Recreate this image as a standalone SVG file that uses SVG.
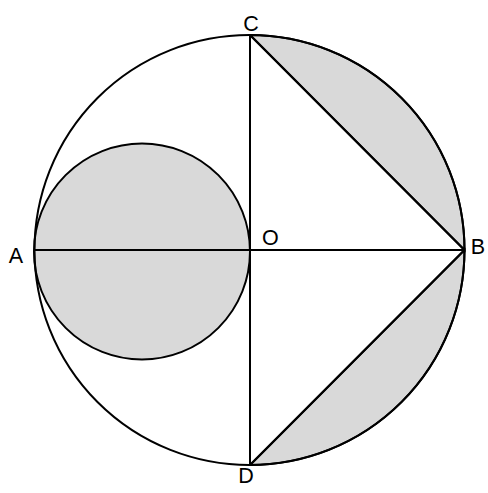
<svg xmlns="http://www.w3.org/2000/svg" width="488" height="493" viewBox="0 0 488 493">
<style>
.s{stroke:#000;stroke-width:2;fill:none}
.f{fill:#d9d9d9;stroke:#000;stroke-width:2}
.t{font-family:"Liberation Sans",Arial,sans-serif;font-size:21.5px;fill:#000}
</style>
<rect width="488" height="493" fill="#fff"/>
<g id="segments">
<path class="f" d="M250,35 A215,215 0 0 1 464.5,250 Z"/>
<path class="f" d="M464.5,250 A215,215 0 0 1 250,465 Z"/>
</g>
<g id="small-circle"><circle class="f" cx="142" cy="251.5" r="108"/></g>
<g id="big-circle"><circle class="s" cx="249.5" cy="250" r="215"/></g>
<g id="connectors">
<line class="s" x1="250" y1="35" x2="250" y2="465"/>
<line class="s" x1="34.5" y1="250" x2="464.5" y2="250"/>
<line class="s" x1="250" y1="35" x2="464.5" y2="250"/>
<line class="s" x1="250" y1="465" x2="464.5" y2="250"/>
</g>
<g id="labels">
<text class="t" x="251" y="30.5" text-anchor="middle">C</text>
<text class="t" x="16" y="263" text-anchor="middle">A</text>
<text class="t" x="270.3" y="244.5" text-anchor="middle">O</text>
<text class="t" x="478" y="254.3" text-anchor="middle">B</text>
<text class="t" x="246" y="483.3" text-anchor="middle">D</text>
</g>
</svg>
